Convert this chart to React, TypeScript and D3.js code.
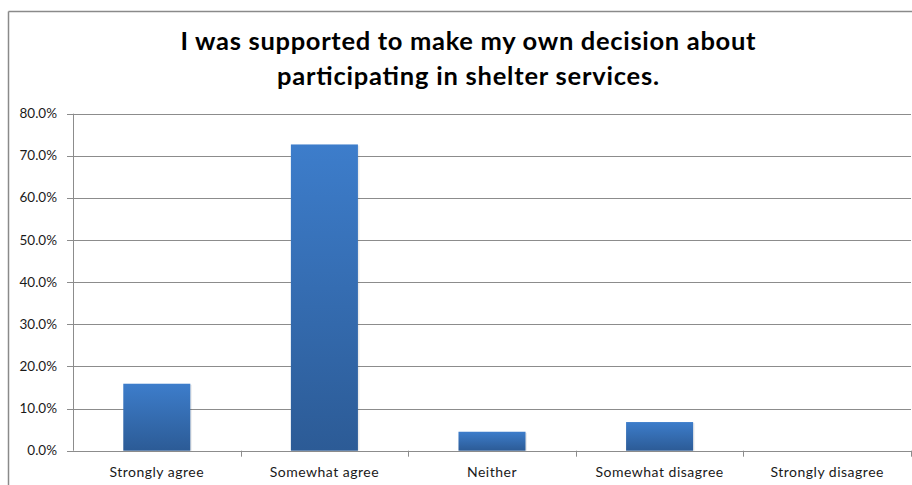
import React from "react";
import * as d3 from "d3";

const categories = ["Strongly agree", "Somewhat agree", "Neither", "Somewhat disagree", "Strongly disagree"];
const values = [15.9, 72.7, 4.5, 6.8, 0];
const yTicks = [0, 10, 20, 30, 40, 50, 60, 70, 80];
const titleLines = ["I was supported to make my own decision about", "participating in shelter services."];
const titleWidths = [575, 382];

const W = 912;
const H = 485;
const plot = { left: 73, right: 911, top: 113.7, bottom: 450.7 };

export default function App() {
  const x = d3.scaleBand<string>().domain(categories).range([plot.left, plot.right]).paddingInner(0.6).paddingOuter(0.3);
  const y = d3.scaleLinear().domain([0, 80]).range([plot.bottom, plot.top]);
  const step = x.step();
  const font = "Lato, 'Open Sans', sans-serif";
  const grid = "#8c8c8c";
  return (
    <svg width={W} height={H} style={{ position: "absolute", left: 0, top: 0, background: "#fff" }}>
      <defs>
        <linearGradient id="barGrad" x1="0" y1="0" x2="0" y2="1">
          <stop offset="0%" stopColor="#3d7dcb" />
          <stop offset="100%" stopColor="#2c5b96" />
        </linearGradient>
      </defs>
      <rect x={0} y={0} width={W} height={H} fill="#fff" />
      {/* outer frame */}
      <line x1={8.5} y1={11.5} x2={W} y2={11.5} stroke="#8a8a8a" strokeWidth={1.5} />
      <line x1={8.5} y1={11.5} x2={8.5} y2={H} stroke="#8a8a8a" strokeWidth={1.5} />
      {/* title */}
      {titleLines.map((t, i) => (
        <text key={i} x={468} y={49.5 + i * 35} textAnchor="middle" fontFamily={font} fontWeight={700} fontSize={25.5} fill="#000" textLength={titleWidths[i]} lengthAdjust="spacing">
          {t}
        </text>
      ))}
      {/* gridlines and y ticks */}
      {yTicks.map((t) => (
        <g key={t}>
          <line x1={plot.left - 6} x2={plot.right} y1={Math.round(y(t)) + 0.5} y2={Math.round(y(t)) + 0.5} stroke={grid} strokeWidth={1} />
          <text x={57} y={y(t) + 4.5} textAnchor="end" fontFamily={font} fontSize={13.5} fill="#1a1a1a">
            {t.toFixed(1)}%
          </text>
        </g>
      ))}
      {/* y axis */}
      <line x1={plot.left + 0.5} x2={plot.left + 0.5} y1={plot.top} y2={plot.bottom} stroke={grid} />
      {/* x category ticks */}
      {categories.map((c) => {
        const bx = (x(c) as number) - step * 0.3 + step;
        return <line key={c} x1={Math.round(bx) + 0.5} x2={Math.round(bx) + 0.5} y1={plot.bottom} y2={plot.bottom + 6} stroke={grid} />;
      })}
      {/* bars */}
      {categories.map((c, i) => (
        <g key={c}>
          {values[i] > 0 && (
            <>
              <rect x={(x(c) as number) + 1.5} y={y(values[i]) + 1} width={x.bandwidth()} height={y(0) - y(values[i]) - 1} fill="#000" opacity={0.08} />
              <rect x={x(c)} y={y(values[i])} width={x.bandwidth()} height={y(0) - y(values[i])} fill="url(#barGrad)" />
            </>
          )}
          <text x={(x(c) as number) + x.bandwidth() / 2} y={477} textAnchor="middle" fontFamily={font} fontSize={14} letterSpacing={0.5} fill="#1a1a1a">
            {c}
          </text>
        </g>
      ))}
    </svg>
  );
}
